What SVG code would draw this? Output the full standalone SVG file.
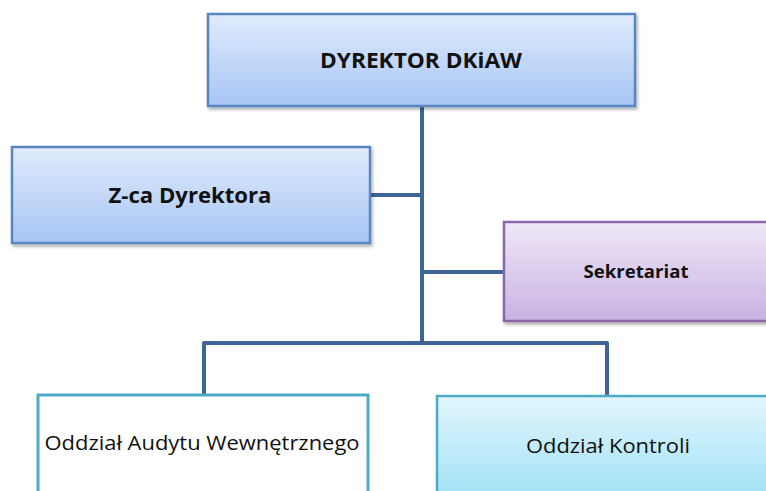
<svg xmlns="http://www.w3.org/2000/svg" width="766" height="491" viewBox="0 0 766 491">
<defs>
<linearGradient id="gBlue" x1="0" y1="0" x2="0" y2="1"><stop offset="0" stop-color="#e0ebfc"/><stop offset="1" stop-color="#a7c5f5"/></linearGradient>
<linearGradient id="gPurple" x1="0" y1="0" x2="0" y2="1"><stop offset="0" stop-color="#f0e8f8"/><stop offset="1" stop-color="#c8b2e2"/></linearGradient>
<linearGradient id="gCyan" x1="0" y1="0" x2="0" y2="1"><stop offset="0" stop-color="#e2f6fd"/><stop offset="1" stop-color="#a3e2f7"/></linearGradient>
<filter id="sh" x="-10%" y="-10%" width="120%" height="130%"><feDropShadow dx="1.5" dy="2.5" stdDeviation="1.5" flood-color="#000" flood-opacity="0.3"/></filter>
</defs>
<style>
.conn{stroke:#3e6596;stroke-width:4;fill:none;stroke-linejoin:round}
.blue{fill:url(#gBlue);stroke:#5a86c0;stroke-width:2.5;filter:url(#sh)}
.purple{fill:url(#gPurple);stroke:#8a68a8;stroke-width:2.5;filter:url(#sh)}
.cyan{fill:url(#gCyan);stroke:#4bacc6;stroke-width:2.5}
.white{fill:#fff;stroke:#4bacc6;stroke-width:3}
text{font-family:"Open Sans","Liberation Sans",sans-serif;fill:#111;text-anchor:middle;dominant-baseline:central}
.b{font-weight:bold}
</style>
<rect width="766" height="491" fill="#fff"/>
<g id="connectors">
<path class="conn" d="M422,107 V343"/>
<path class="conn" d="M370,195 H422"/>
<path class="conn" d="M422,272 H504"/>
<path class="conn" d="M204,395 V343 H607 V396"/>
</g>
<g id="n-dyrektor"><rect class="blue" x="208" y="14" width="427" height="92"/><text class="b" x="421" y="60" font-size="21" textLength="202" lengthAdjust="spacingAndGlyphs">DYREKTOR DKiAW</text></g>
<g id="n-zca"><rect class="blue" x="12" y="147" width="358" height="96"/><text class="b" x="190" y="195" font-size="21" textLength="163" lengthAdjust="spacingAndGlyphs">Z-ca Dyrektora</text></g>
<g id="n-sekretariat"><rect class="purple" x="504" y="222" width="270" height="99"/><text class="b" x="636" y="271" font-size="17" textLength="105" lengthAdjust="spacingAndGlyphs">Sekretariat</text></g>
<g id="n-audyt"><rect class="white" x="38" y="395" width="330" height="100"/><text x="202" y="442" font-size="20" textLength="315" lengthAdjust="spacingAndGlyphs">Oddział Audytu Wewnętrznego</text></g>
<g id="n-kontrola"><rect class="cyan" x="437" y="396" width="340" height="100"/><text x="608" y="445" font-size="20" textLength="164" lengthAdjust="spacingAndGlyphs">Oddział Kontroli</text></g>
</svg>
